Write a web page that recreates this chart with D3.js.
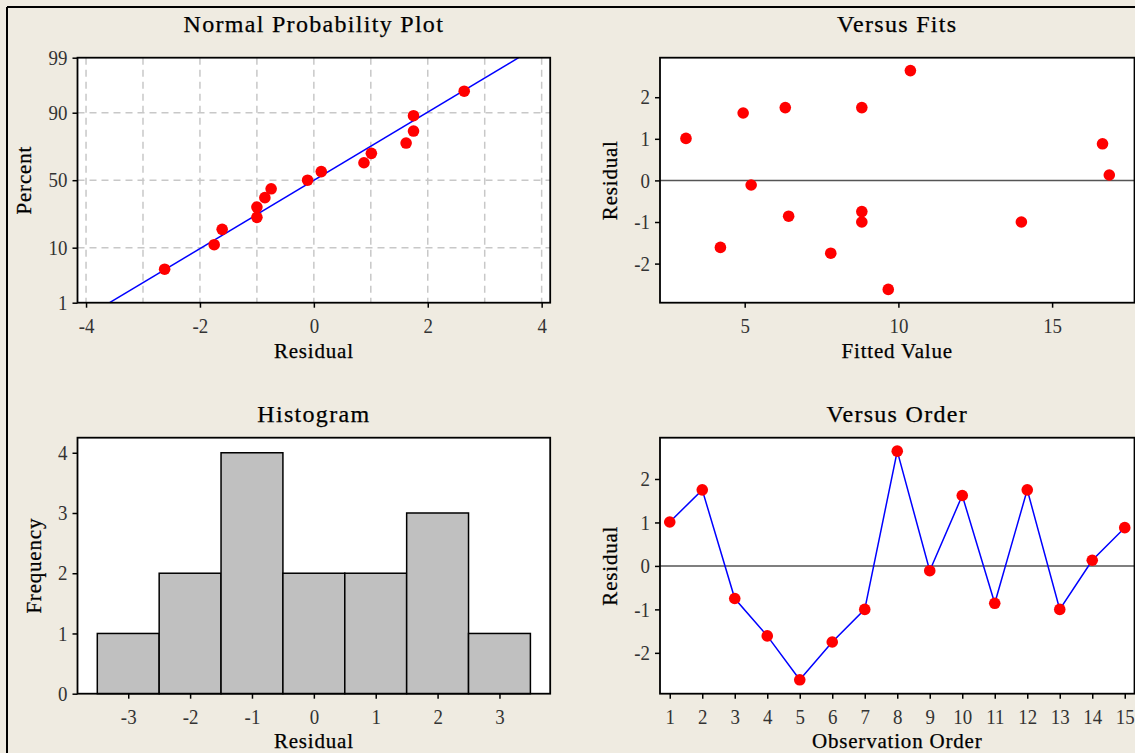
<!DOCTYPE html>
<html>
<head>
<meta charset="utf-8">
<script src="https://cdn.jsdelivr.net/npm/d3@7"></script>
<style>
  body { margin: 0; background: #efebe1; }
  svg { display: block; }
  text { font-family: "Liberation Serif", "Times New Roman", serif; }
</style>
</head>
<body>
<script>
// residuals in observation order, and the fitted value of each observation
const observations = d3.range(1, 16);
const residuals = [1.01, 1.75, -0.75, -1.61, -2.62, -1.75, -1.0, 2.64, -0.11, 1.62, -0.86, 1.75, -1.0, 0.13, 0.88];
const fittedValues = [3.09, 6.32, 8.81, 4.21, 9.67, 7.80, 8.81, 10.39, 5.21, 4.95, 6.43, 8.81, 14.00, 16.86, 16.64];

const percentTicks = [1, 10, 50, 90, 99];
const percentGrid = [10, 50, 90];
const nppTicks = [-4, -2, 0, 2, 4];
const fitTicks = [5, 10, 15];
const residTicks = [-2, -1, 0, 1, 2];
const binCenters = [-3, -2, -1, 0, 1, 2, 3];
const freqTicks = [0, 1, 2, 3, 4];

const width = 1135;
const height = 753;
const plain = (d) => String(d); // keeps the ascii hyphen for negatives

// inverse normal cdf (Acklam)
function probit(p) {
  const a = [-39.69683028665376, 220.9460984245205, -275.9285104469687, 138.3577518672690, -30.66479806614716, 2.506628277459239];
  const b = [-54.47609879822406, 161.5858368580409, -155.6989798598866, 66.80131188771972, -13.28068155288572];
  const c = [-0.007784894002430293, -0.3223964580411365, -2.400758277161838, -2.549732539343734, 4.374664141464968, 2.938163982698783];
  const d = [0.007784695709041462, 0.3224671290700398, 2.445134137142996, 3.754408661907416];
  const tail = (q) => (((((c[0] * q + c[1]) * q + c[2]) * q + c[3]) * q + c[4]) * q + c[5]) /
    ((((d[0] * q + d[1]) * q + d[2]) * q + d[3]) * q + 1);
  if (p < 0.02425) return tail(Math.sqrt(-2 * Math.log(p)));
  if (p > 1 - 0.02425) return -tail(Math.sqrt(-2 * Math.log(1 - p)));
  const q = p - 0.5;
  const r = q * q;
  return (((((a[0] * r + a[1]) * r + a[2]) * r + a[3]) * r + a[4]) * r + a[5]) * q /
    (((((b[0] * r + b[1]) * r + b[2]) * r + b[3]) * r + b[4]) * r + 1);
}

const svg = d3.select('body').append('svg')
  .attr('width', width)
  .attr('height', height);

svg.append('rect').attr('width', width).attr('height', height).attr('fill', '#efebe1');
svg.append('line').attr('x1', 7).attr('x2', width).attr('y1', 7).attr('y2', 7)
  .attr('stroke', '#000').attr('stroke-width', 2);
svg.append('line').attr('x1', 7).attr('x2', 7).attr('y1', 7).attr('y2', height)
  .attr('stroke', '#000').attr('stroke-width', 2);

const boxes = {
  npp: { x0: 77.5, x1: 550.2, y0: 57.7, y1: 302.7 },
  fits: { x0: 660, x1: 1134.5, y0: 57.7, y1: 302.7 },
  hist: { x0: 77.5, x1: 550.2, y0: 437.7, y1: 693.7 },
  order: { x0: 660, x1: 1134.5, y0: 437.7, y1: 693.7 },
};

function styleTicks(g, left) {
  g.select('.domain').remove();
  g.selectAll('.tick line').attr('stroke', '#000').attr('stroke-width', 1.5);
  g.selectAll('.tick text')
    .attr('fill', '#333')
    .style('font-size', '21px')
    .attr('transform', 'scale(0.9,1)');
  if (left) g.selectAll('.tick text').attr('x', -10 / 0.9);
}

function panel(box, title, titleY, xLabel, xLabelY, yLabel, yLabelX) {
  const g = svg.append('g');
  g.append('rect')
    .attr('x', box.x0).attr('y', box.y0)
    .attr('width', box.x1 - box.x0).attr('height', box.y1 - box.y0)
    .attr('fill', '#fff');
  const cx = (box.x0 + box.x1) / 2;
  g.append('text').attr('x', cx).attr('y', titleY)
    .attr('text-anchor', 'middle').style('font-size', '24px')
    .style('letter-spacing', '1.3px')
    .attr('stroke', '#000').attr('stroke-width', 0.25)
    .text(title);
  g.append('text').attr('x', cx).attr('y', xLabelY)
    .attr('text-anchor', 'middle').style('font-size', '21px')
    .style('letter-spacing', '0.8px')
    .attr('stroke', '#000').attr('stroke-width', 0.25)
    .text(xLabel);
  g.append('text')
    .attr('transform', `translate(${yLabelX},${(box.y0 + box.y1) / 2}) rotate(-90)`)
    .attr('text-anchor', 'middle').style('font-size', '21px')
    .style('letter-spacing', '0.8px')
    .attr('stroke', '#000').attr('stroke-width', 0.25)
    .text(yLabel);
  return g;
}

function frame(g, box) {
  g.append('rect')
    .attr('x', box.x0).attr('y', box.y0)
    .attr('width', box.x1 - box.x0).attr('height', box.y1 - box.y0)
    .attr('fill', 'none').attr('stroke', '#000').attr('stroke-width', 1.8);
}

function dots(g, data, x, y) {
  g.append('g').selectAll('circle')
    .data(data)
    .join('circle')
    .attr('cx', (d) => x(d[0]))
    .attr('cy', (d) => y(d[1]))
    .attr('r', 5.8)
    .attr('fill', '#ff0000');
}

// Normal probability plot
{
  const box = boxes.npp;
  const g = panel(box, 'Normal Probability Plot', 32, 'Residual', 358, 'Percent', 31);
  const x = d3.scaleLinear().domain([-4.15, 4.15]).range([box.x0, box.x1]);
  const y = d3.scaleLinear().domain([probit(0.01), probit(0.99)]).range([box.y1, box.y0]);

  g.append('g').selectAll('line')
    .data(d3.range(-4, 5))
    .join('line')
    .attr('x1', (d) => x(d)).attr('x2', (d) => x(d))
    .attr('y1', box.y0).attr('y2', box.y1)
    .attr('stroke', '#c8c8c8').attr('stroke-width', 1.5).attr('stroke-dasharray', '7,5');
  g.append('g').selectAll('line')
    .data(percentGrid)
    .join('line')
    .attr('x1', box.x0).attr('x2', box.x1)
    .attr('y1', (d) => y(probit(d / 100))).attr('y2', (d) => y(probit(d / 100)))
    .attr('stroke', '#c8c8c8').attr('stroke-width', 1.5).attr('stroke-dasharray', '7,5');

  const mean = d3.mean(residuals);
  const sd = d3.deviation(residuals);
  const zs = y.domain();
  g.append('line')
    .attr('x1', x(mean + sd * zs[0])).attr('y1', y(zs[0]))
    .attr('x2', x(mean + sd * zs[1])).attr('y2', y(zs[1]))
    .attr('stroke', '#0000ff').attr('stroke-width', 1.5);

  const n = residuals.length;
  const sorted = residuals.slice().sort(d3.ascending);
  dots(g, sorted.map((r, i) => [r, probit((i + 1 - 0.3) / (n + 0.4))]), x, y);

  g.append('g').attr('transform', `translate(0,${box.y1})`)
    .call(d3.axisBottom(x).tickValues(nppTicks).tickSize(5).tickPadding(10).tickFormat(plain))
    .call((a) => styleTicks(a, false));
  g.append('g').attr('transform', `translate(${box.x0},0)`)
    .call(d3.axisLeft(y).tickValues(percentTicks.map((p) => probit(p / 100))).tickSize(5)
      .tickFormat((d, i) => percentTicks[i]))
    .call((a) => styleTicks(a, true));
  frame(g, box);
}

// Versus fits
{
  const box = boxes.fits;
  const g = panel(box, 'Versus Fits', 32, 'Fitted Value', 358, 'Residual', 617);
  const x = d3.scaleLinear().domain([2.245, 17.68]).range([box.x0, box.x1]);
  const y = d3.scaleLinear().domain([-2.94, 2.95]).range([box.y1, box.y0]);
  g.append('line').attr('x1', box.x0).attr('x2', box.x1)
    .attr('y1', y(0)).attr('y2', y(0)).attr('stroke', '#555').attr('stroke-width', 1.5);
  dots(g, fittedValues.map((f, i) => [f, residuals[i]]), x, y);
  g.append('g').attr('transform', `translate(0,${box.y1})`)
    .call(d3.axisBottom(x).tickValues(fitTicks).tickSize(5).tickPadding(10).tickFormat(plain))
    .call((a) => styleTicks(a, false));
  g.append('g').attr('transform', `translate(${box.x0},0)`)
    .call(d3.axisLeft(y).tickValues(residTicks).tickSize(5).tickFormat(plain))
    .call((a) => styleTicks(a, true));
  frame(g, box);
}

// Histogram
{
  const box = boxes.hist;
  const g = panel(box, 'Histogram', 422, 'Residual', 748, 'Frequency', 41);
  const x = d3.scaleLinear().domain([-3.82, 3.82]).range([box.x0, box.x1]);
  const y = d3.scaleLinear().domain([0, 4.25]).range([box.y1, box.y0]);
  const bins = d3.bin()
    .domain([binCenters[0] - 0.5, binCenters[binCenters.length - 1] + 0.5])
    .thresholds(binCenters.slice(1).map((c) => c - 0.5))(residuals);
  g.append('g').selectAll('rect')
    .data(bins)
    .join('rect')
    .attr('x', (d) => x(d.x0))
    .attr('width', (d) => x(d.x1) - x(d.x0))
    .attr('y', (d) => y(d.length))
    .attr('height', (d) => y(0) - y(d.length))
    .attr('fill', '#c0c0c0')
    .attr('stroke', '#000')
    .attr('stroke-width', 1.5);
  g.append('g').attr('transform', `translate(0,${box.y1})`)
    .call(d3.axisBottom(x).tickValues(binCenters).tickSize(5).tickPadding(10).tickFormat(plain))
    .call((a) => styleTicks(a, false));
  g.append('g').attr('transform', `translate(${box.x0},0)`)
    .call(d3.axisLeft(y).tickValues(freqTicks).tickSize(5).tickFormat(plain))
    .call((a) => styleTicks(a, true));
  frame(g, box);
}

// Versus order
{
  const box = boxes.order;
  const g = panel(box, 'Versus Order', 422, 'Observation Order', 748, 'Residual', 617);
  const x = d3.scaleLinear().domain([0.7, 15.3]).range([box.x0, box.x1]);
  const y = d3.scaleLinear().domain([-2.94, 2.95]).range([box.y1, box.y0]);
  g.append('line').attr('x1', box.x0).attr('x2', box.x1)
    .attr('y1', y(0)).attr('y2', y(0)).attr('stroke', '#555').attr('stroke-width', 1.5);
  const pts = observations.map((o, i) => [o, residuals[i]]);
  g.append('path')
    .datum(pts)
    .attr('fill', 'none')
    .attr('stroke', '#0000ff')
    .attr('stroke-width', 1.5)
    .attr('d', d3.line().x((d) => x(d[0])).y((d) => y(d[1])));
  dots(g, pts, x, y);
  g.append('g').attr('transform', `translate(0,${box.y1})`)
    .call(d3.axisBottom(x).tickValues(observations).tickSize(5).tickPadding(10).tickFormat(plain))
    .call((a) => styleTicks(a, false));
  g.append('g').attr('transform', `translate(${box.x0},0)`)
    .call(d3.axisLeft(y).tickValues(residTicks).tickSize(5).tickFormat(plain))
    .call((a) => styleTicks(a, true));
  frame(g, box);
}
</script>
</body>
</html>
